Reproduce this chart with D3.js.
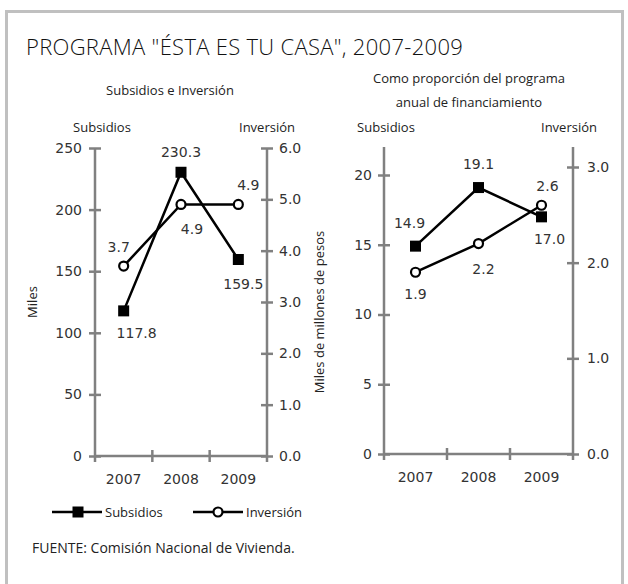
<!DOCTYPE html>
<html lang="es">
<head>
<meta charset="UTF-8">
<title>Programa "Ésta es tu casa", 2007-2009</title>
<script src="https://d3js.org/d3.v7.min.js"></script>
<style>
  body { margin: 0; background: #fff; }
  svg { display: block; }
  .lbl { font-family: "Open Sans", sans-serif; font-size: 13px; fill: #222; }
  .num { font-family: "DejaVu Sans", sans-serif; font-size: 14px; fill: #333; }
  .axis path, .axis line { stroke: #808080; stroke-width: 2.5px; }
  .axis text { font-family: "DejaVu Sans", sans-serif; font-size: 14px; font-weight: normal; fill: #333; stroke: none; }
</style>
</head>
<body>
<svg width="628" height="584"></svg>
<script>
// datos
const years = ["2007", "2008", "2009"];
const subsidiosMiles = [117.8, 230.3, 159.5];
const inversionMMP = [3.7, 4.9, 4.9];
const subsidiosPct = [14.9, 19.1, 17.0];
const inversionPct = [1.9, 2.2, 2.6];
const ticksMiles = [0, 50, 100, 150, 200, 250];
const ticksMMP = [0, 1, 2, 3, 4, 5, 6];
const ticksPct = [0, 5, 10, 15, 20];
const ticksPctInv = [0, 1, 2, 3];

// desplazamiento de etiquetas (dx, dy) por punto
const offSubL = [[13, 22], [0, -20], [5, 24]];
const offInvL = [[-5, -19], [11, 24], [10, -20]];
const offSubR = [[-6, -23], [0, -24], [8, 22]];
const offInvR = [[0, 22], [5, 25], [6, -19]];

const svg = d3.select("svg");

// marco
svg.append("rect")
  .attr("x", 6.5).attr("y", 11.5)
  .attr("width", 616).attr("height", 620)
  .attr("fill", "#fff").attr("stroke", "#c0c0c0").attr("stroke-width", 3);

// títulos
svg.append("text").attr("class", "lbl")
  .attr("x", 26).attr("y", 55)
  .style("font-size", "22px").style("font-weight", 300).style("fill", "#111")
  .style("letter-spacing", "0.3px")
  .text('PROGRAMA "ÉSTA ES TU CASA", 2007-2009');

function label(x, y, t, anchor) {
  svg.append("text").attr("class", "lbl")
    .attr("x", x).attr("y", y)
    .attr("text-anchor", anchor || "middle")
    .text(t);
}
label(170, 95, "Subsidios e Inversión");
label(469, 83, "Como proporción del programa");
label(469, 107, "anual de financiamiento");
label(102, 132, "Subsidios");
label(267, 132, "Inversión");
label(386, 132, "Subsidios");
label(569, 132, "Inversión");

// dibuja un panel con dos ejes verticales
function panel(cfg) {
  const x = d3.scaleBand().domain(years).range([cfg.x0, cfg.x1]);
  const yl = d3.scaleLinear().domain(cfg.ld).range([cfg.base, cfg.ltop]);
  const yr = d3.scaleLinear().domain(cfg.rd).range([cfg.base, cfg.rtop]);

  // eje x
  const gx = svg.append("g").attr("class", "axis")
    .attr("transform", `translate(0,${cfg.base})`)
    .call(d3.axisBottom(x).tickSize(0).tickPadding(18));
  gx.select(".domain").attr("d", `M${cfg.x0},0H${cfg.x1}`);
  gx.selectAll(".tick text").attr("dy", "0.71em");
  // marcas entre bandas
  gx.selectAll(".sep")
    .data(years.slice(1))
    .enter().append("line")
    .attr("x1", d => x(d)).attr("x2", d => x(d))
    .attr("y1", -6).attr("y2", 6)
    .attr("stroke", "#808080").attr("stroke-width", 2.5);

  // eje izquierdo
  const gl = svg.append("g").attr("class", "axis")
    .attr("transform", `translate(${cfg.x0},0)`)
    .call(d3.axisLeft(yl).tickValues(cfg.lt).tickSize(6).tickPadding(cfg.lpad)
      .tickFormat(d3.format("d")));
  gl.select(".domain").attr("d", `M0,${cfg.top}V${cfg.base + 6}`);
  gl.selectAll(".tick line").attr("x1", 6);

  // eje derecho
  const gr = svg.append("g").attr("class", "axis")
    .attr("transform", `translate(${cfg.x1},0)`)
    .call(d3.axisRight(yr).tickValues(cfg.rt).tickSize(6).tickPadding(cfg.rpad)
      .tickFormat(d3.format(".1f")));
  gr.select(".domain").attr("d", `M0,${cfg.top}V${cfg.base + 6}`);
  gr.selectAll(".tick line").attr("x1", -6);

  const cx = d => x(d) + x.bandwidth() / 2;

  // series
  const line = (ys, vals) => d3.line().x((d, i) => cx(years[i])).y(d => ys(d))(vals);

  svg.append("path").attr("d", line(yl, cfg.ls))
    .attr("fill", "none").attr("stroke", "#000").attr("stroke-width", 2.5);
  svg.append("path").attr("d", line(yr, cfg.rs))
    .attr("fill", "none").attr("stroke", "#000").attr("stroke-width", 2.5);

  svg.selectAll(null).data(cfg.ls).enter().append("rect")
    .attr("x", (d, i) => cx(years[i]) - 5.5)
    .attr("y", d => yl(d) - 5.5)
    .attr("width", 11).attr("height", 11).attr("fill", "#000");

  svg.selectAll(null).data(cfg.rs).enter().append("circle")
    .attr("cx", (d, i) => cx(years[i]))
    .attr("cy", d => yr(d))
    .attr("r", 4.5).attr("fill", "#fff").attr("stroke", "#000").attr("stroke-width", 2.2);

  svg.selectAll(null).data(cfg.ls).enter().append("text").attr("class", "num")
    .attr("x", (d, i) => cx(years[i]) + cfg.lo[i][0])
    .attr("y", (d, i) => yl(d) + cfg.lo[i][1])
    .attr("dy", "0.36em").attr("text-anchor", "middle")
    .text(d => d.toFixed(1));

  svg.selectAll(null).data(cfg.rs).enter().append("text").attr("class", "num")
    .attr("x", (d, i) => cx(years[i]) + cfg.ro[i][0])
    .attr("y", (d, i) => yr(d) + cfg.ro[i][1])
    .attr("dy", "0.36em").attr("text-anchor", "middle")
    .text(d => d.toFixed(1));
}

panel({
  x0: 95, x1: 267, base: 456, top: 148,
  ld: [0, 250], ltop: 148, lt: ticksMiles, lpad: 7,
  rd: [0, 6], rtop: 148, rt: ticksMMP, rpad: 6,
  ls: subsidiosMiles, rs: inversionMMP, lo: offSubL, ro: offInvL
});

panel({
  x0: 384, x1: 573, base: 454, top: 147,
  ld: [0, 20], ltop: 175, lt: ticksPct, lpad: 6,
  rd: [0, 3], rtop: 167, rt: ticksPctInv, rpad: 8,
  ls: subsidiosPct, rs: inversionPct, lo: offSubR, ro: offInvR
});

// títulos de ejes
svg.append("text").attr("class", "lbl")
  .attr("transform", "translate(37,302) rotate(-90)")
  .attr("text-anchor", "middle").text("Miles");
svg.append("text").attr("class", "lbl")
  .attr("transform", "translate(324,312) rotate(-90)")
  .attr("text-anchor", "middle").text("Miles de millones de pesos");

// leyenda
const leg = svg.append("g").attr("transform", "translate(0,512)");
leg.append("line").attr("x1", 52).attr("x2", 102).attr("stroke", "#000").attr("stroke-width", 2.5);
leg.append("rect").attr("x", 72.5).attr("y", -5.5).attr("width", 11).attr("height", 11).attr("fill", "#000");
leg.append("text").attr("class", "lbl").attr("x", 105).attr("y", 5).text("Subsidios");
leg.append("line").attr("x1", 193).attr("x2", 243).attr("stroke", "#000").attr("stroke-width", 2.5);
leg.append("circle").attr("cx", 218).attr("r", 4.5).attr("fill", "#fff").attr("stroke", "#000").attr("stroke-width", 2.2);
leg.append("text").attr("class", "lbl").attr("x", 246).attr("y", 5).text("Inversión");

// fuente
svg.append("text").attr("class", "lbl")
  .attr("x", 32).attr("y", 553)
  .style("font-size", "14px")
  .text("FUENTE: Comisión Nacional de Vivienda.");
</script>
</body>
</html>
